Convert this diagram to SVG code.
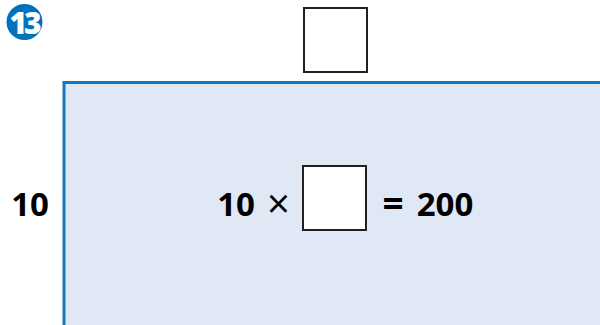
<svg xmlns="http://www.w3.org/2000/svg" width="600" height="325" viewBox="0 0 600 325">
<style>
.t{font-family:"Open Sans","Noto Sans",sans-serif;font-weight:bold;font-size:33px;fill:#000}
.x{font-family:"Open Sans","Noto Sans",sans-serif;font-weight:normal;font-size:40px;fill:#000}
.box{fill:#fff;stroke:#231f20;stroke-width:2}
</style>
<rect width="600" height="325" fill="#fff"/>
<g id="badge">
<circle cx="24.5" cy="22" r="18" fill="#0072bc"/>
<text x="24" y="33.5" text-anchor="middle" style="font-family:'Open Sans','Noto Sans',sans-serif;font-weight:800;font-size:30px;fill:#fff;letter-spacing:-3px">13</text>
</g>
<g id="rect">
<rect x="64" y="82.5" width="540" height="250" fill="#e0e7f5" stroke="#1a75bf" stroke-width="3"/>
</g>
<g id="topbox"><rect class="box" x="304" y="8" width="63" height="64"/></g>
<g id="side"><text class="t" x="30" y="216" text-anchor="middle">10</text></g>
<g id="eq">
<text class="t" x="236" y="216" text-anchor="middle">10</text>
<text class="x" x="278.5" y="218" text-anchor="middle">×</text>
<rect class="box" x="303" y="166" width="63" height="64"/>
<text class="t" x="393" y="217" text-anchor="middle" style="font-size:37px">=</text>
<text class="t" x="445" y="216" text-anchor="middle">200</text>
</g>
</svg>
